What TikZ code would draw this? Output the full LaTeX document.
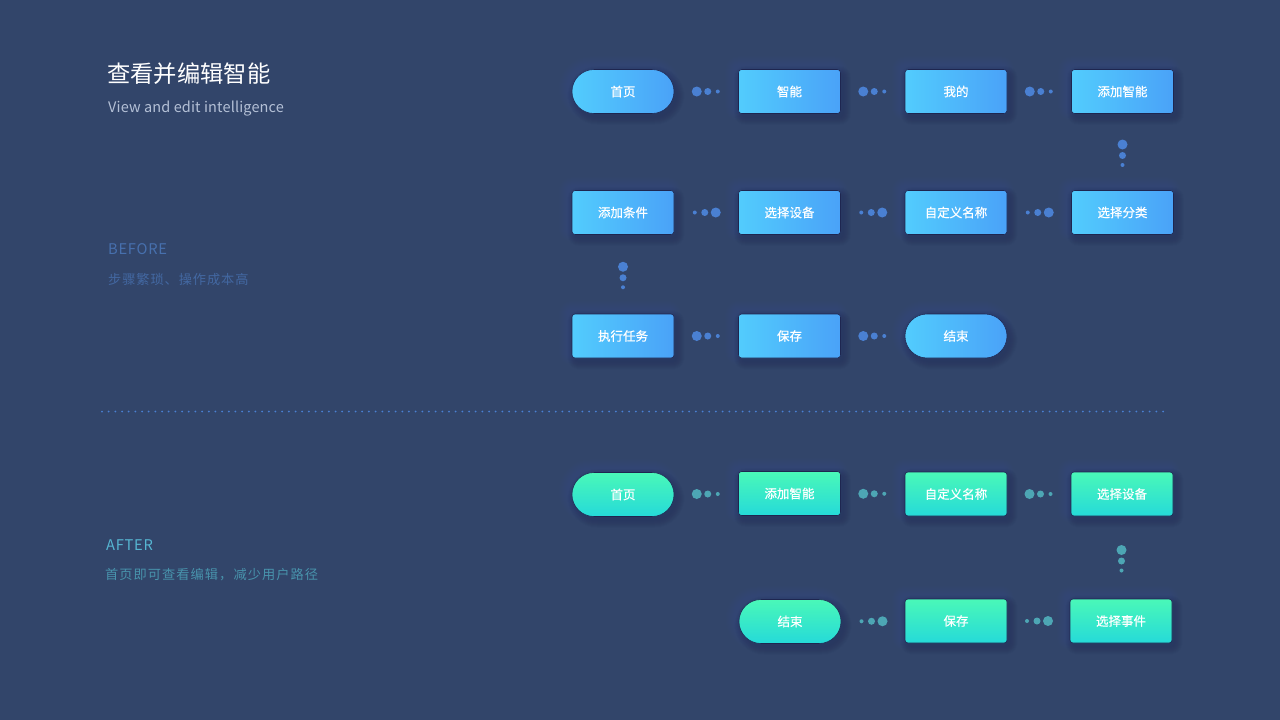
\documentclass[tikz,border=0pt]{standalone}
\usepackage{fontspec}
\setmainfont{Noto Sans CJK SC}
\newfontfamily\boxfont[FakeBold=0.5]{Noto Sans CJK SC}
\usetikzlibrary{calc}
\pgfdeclarelayer{bg}\pgfdeclarelayer{shade}
\pgfsetlayers{bg,shade,main}
\definecolor{bgc}{HTML}{32456A}
\definecolor{blueL}{HTML}{52CCFD}
\definecolor{blueR}{HTML}{4AA2F8}
\definecolor{greenT}{HTML}{4AF8B8}
\definecolor{greenB}{HTML}{25DAD9}
\definecolor{edgec}{HTML}{1E2650}
\definecolor{shdark}{HTML}{16224A}
\definecolor{shlight}{HTML}{4A5E8C}
\definecolor{bluedot}{HTML}{4A80D2}
\definecolor{tealdot}{HTML}{4DA6B4}
\definecolor{subc}{HTML}{B4C0D6}
\definecolor{beforec}{HTML}{4770AE}
\definecolor{beforesub}{HTML}{4368A2}
\definecolor{afterc}{HTML}{56B6D2}
\definecolor{aftersub}{HTML}{4893AC}
\tikzset{
  x=1pt, y=-1pt,
  box/.style={minimum width=102pt, minimum height=44pt, inner sep=0pt, text=white,
    font=\boxfont\fontsize{12.5}{14}\selectfont, rounded corners=3pt,
    draw=edgec, line width=0.55pt},
  bluebox/.style={box, left color=blueL, right color=blueR},
  greenbox/.style={box, top color=greenT, bottom color=greenB},
  pillshape/.style={rounded corners=22pt},
  bigdot/.style={circle, fill=#1, inner sep=0pt, minimum size=10pt},
  meddot/.style={circle, fill=#1, inner sep=0pt, minimum size=7pt},
  smalldot/.style={circle, fill=#1, inner sep=0pt, minimum size=4pt},
  lefttext/.style={anchor=west, inner sep=0pt},
}
% soft shadow/glow behind a node
\newcommand\softshadow[2]{%
  \begin{pgfonlayer}{shade}
  \foreach \k in {1,...,10}{
    \pgfmathsetmacro\rr{#2+\k}
    \fill[shlight, opacity=0.04, rounded corners=\rr pt]
      ($(#1.north west)+(-\k-3,-\k-3)$) rectangle ($(#1.south east)+(\k-3,\k-3)$);
  }
  \foreach \k in {1,...,8}{
    \pgfmathsetmacro\rr{#2+\k}
    \fill[shdark, opacity=0.038, rounded corners=\rr pt]
      ($(#1.north west)+(-\k+4,-\k+5)$) rectangle ($(#1.south east)+(\k+2,\k+3)$);
  }
  \end{pgfonlayer}}
% horizontal flow dots: src, tgt, sign (+1 rightwards, -1 leftwards), colour
\newcommand\hflow[4]{%
  \coordinate (#1-#2-m) at ($(#1)!0.5!(#2)$);
  \node[bigdot=#4] (#1-#2-a) at ($(#1-#2-m)+({-9.5*(#3)},0)$) {};
  \node[meddot=#4] (#1-#2-b) at ($(#1-#2-m)+({1.5*(#3)},0)$) {};
  \node[smalldot=#4] (#1-#2-c) at ($(#1-#2-m)+({11.5*(#3)},0)$) {};}
% vertical flow dots: src, tgt, colour
\newcommand\vflow[3]{%
  \coordinate (#1-#2-m) at ($(#1.south)!0.5!(#2.north)$);
  \node[bigdot=#3] (#1-#2-a) at ($(#1-#2-m)+(0,-7.5)$) {};
  \node[meddot=#3] (#1-#2-b) at ($(#1-#2-m)+(0,3.5)$) {};
  \node[smalldot=#3] (#1-#2-c) at ($(#1-#2-m)+(0,13)$) {};}
\begin{document}
\begin{tikzpicture}
\useasboundingbox (0,0) rectangle (1280,720);
\begin{pgfonlayer}{bg}
  \fill[bgc] (0,0) rectangle (1280,720);
\end{pgfonlayer}

% left texts
\node[lefttext, text=white, font=\fontsize{23.3}{27}\selectfont] (title) at (107,74) {查看并编辑智能};
\node[lefttext, text=subc, font=\fontsize{14.5}{17}\selectfont\addfontfeatures{LetterSpace=1}] (subtitle) at (108,109) {View and edit intelligence};
\node[lefttext, text=beforec, font=\fontsize{14.7}{18}\selectfont\addfontfeatures{LetterSpace=5}] (before) at (108,249) {BEFORE};
\node[lefttext, text=beforesub, font=\fontsize{13.2}{16}\selectfont\addfontfeatures{LetterSpace=7}] (beforesubt) at (108,279.5) {步骤繁琐、操作成本高};
\node[lefttext, text=afterc, font=\fontsize{14.7}{18}\selectfont\addfontfeatures{LetterSpace=5}] (after) at (106,545.5) {AFTER};
\node[lefttext, text=aftersub, font=\fontsize{13.2}{16}\selectfont\addfontfeatures{LetterSpace=8}] (aftersubt) at (105,575) {首页即可查看编辑，减少用户路径};

% divider
\coordinate (divL) at (102,411.5);
\coordinate (divR) at (1163,411.5);
\foreach \i in {0,...,159}{
  \fill[bluedot] ($(divL)!{\i/159}!(divR)$) circle (1pt);
}

% BEFORE boxes
\node[bluebox, pillshape] (b11) at (623,91.5) {首页};
\node[bluebox] (b12) at (789.5,91.5) {智能};
\node[bluebox] (b13) at (956,91.5) {我的};
\node[bluebox] (b14) at (1122.5,91.5) {添加智能};
\node[bluebox] (b21) at (623,212.5) {添加条件};
\node[bluebox] (b22) at (789.5,212.5) {选择设备};
\node[bluebox] (b23) at (956,212.5) {自定义名称};
\node[bluebox] (b24) at (1122.5,212.5) {选择分类};
\node[bluebox] (b31) at (623,336) {执行任务};
\node[bluebox] (b32) at (789.5,336) {保存};
\node[bluebox, pillshape] (b33) at (956,336) {结束};

% AFTER boxes
\node[greenbox, pillshape] (a11) at (623,494.5) {首页};
\node[greenbox] (a12) at (789.5,493.5) {添加智能};
\node[greenbox] (a13) at (956,494) {自定义名称};
\node[greenbox] (a14) at (1122,494) {选择设备};
\node[greenbox, pillshape] (a21) at (790,621.5) {结束};
\node[greenbox] (a22) at (956,621) {保存};
\node[greenbox] (a23) at (1121,621) {选择事件};

% shadows
\foreach \n in {b12,b13,b14,b21,b22,b23,b24,b31,b32,a12,a13,a14,a22,a23}{\softshadow{\n}{3}}
\foreach \n in {b11,b33,a11,a21}{\softshadow{\n}{22}}

% BEFORE flow
\hflow{b11}{b12}{1}{bluedot}
\hflow{b12}{b13}{1}{bluedot}
\hflow{b13}{b14}{1}{bluedot}
\vflow{b14}{b24}{bluedot}
\hflow{b24}{b23}{-1}{bluedot}
\hflow{b23}{b22}{-1}{bluedot}
\hflow{b22}{b21}{-1}{bluedot}
\vflow{b21}{b31}{bluedot}
\hflow{b31}{b32}{1}{bluedot}
\hflow{b32}{b33}{1}{bluedot}

% AFTER flow
\hflow{a11}{a12}{1}{tealdot}
\hflow{a12}{a13}{1}{tealdot}
\hflow{a13}{a14}{1}{tealdot}
\vflow{a14}{a23}{tealdot}
\hflow{a23}{a22}{-1}{tealdot}
\hflow{a22}{a21}{-1}{tealdot}
\end{tikzpicture}
\end{document}
